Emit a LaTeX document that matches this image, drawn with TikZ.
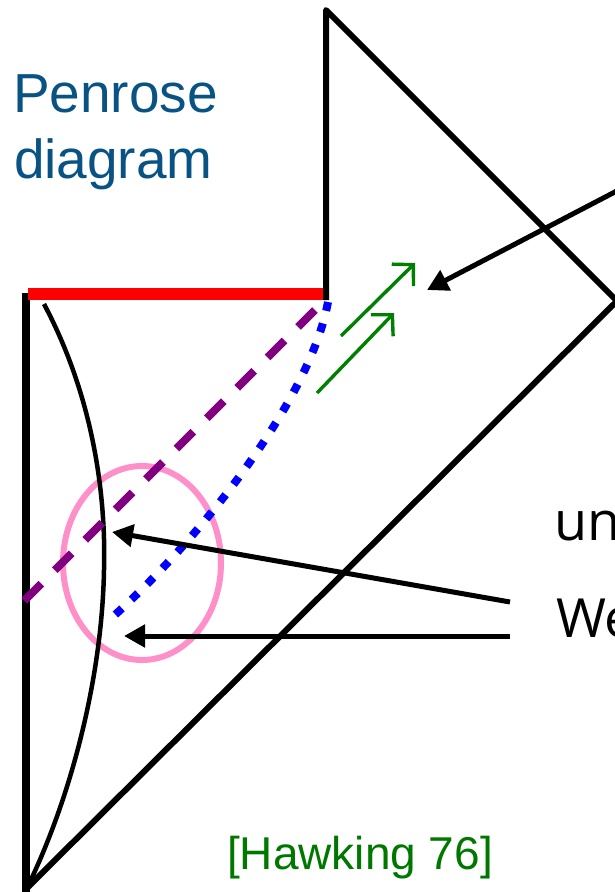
\documentclass[tikz,border=0pt]{standalone}
\usepackage{fontspec}
\setmainfont{Liberation Sans}
\newfontfamily\opensans{Open Sans}
\usetikzlibrary{arrows.meta,shapes.geometric}
\definecolor{penroseblue}{RGB}{8,82,132}
\definecolor{hgreen}{RGB}{0,120,0}
\definecolor{apgreen}{RGB}{0,128,0}
\definecolor{pinkring}{RGB}{255,143,200}
\definecolor{dpurple}{RGB}{128,0,128}
\begin{document}
\begin{tikzpicture}[x=1pt,y=-1pt,
  frame/.style={line width=6pt, line join=round},
  pointer/.style={line width=5pt, -{Triangle[length=21pt,width=22pt]}},
  flow/.style={draw=apgreen, line width=3.4pt, -{Straight Barb[length=15pt,width=31pt,line width=3.4pt]}},
  label/.style={anchor=base west, inner sep=0pt, outer sep=0pt}
]
\useasboundingbox (0,0) rectangle (615,892);
\clip (0,0) rectangle (615,892);

% key points
\coordinate (topv) at (326,10);
\coordinate (corner) at (326,300);
\coordinate (rightv) at (617,301);
\coordinate (botv) at (27,888);
\coordinate (topl) at (26,293);

% ring
\node[draw=pinkring, line width=6pt, ellipse, minimum width=158pt, minimum height=194pt, inner sep=0pt] (ring) at (142,563) {};

% boundaries
\draw[line width=8pt] (topl) -- (26,892);
\draw[red, line width=12pt] (28,294) -- (325,294);
\draw[frame] (corner) -- (topv) -- (rightv) -- (botv);

% curved worldline
\coordinate (cstart) at (44,304);
\coordinate (cmid) at (104,570);
\draw[line width=4.5pt] (cstart) .. controls (95,400) and (106,500) .. (cmid)
  .. controls (102,680) and (70,800) .. (botv);

% light rays
\coordinate (pstart) at (327,298);
\coordinate (pend) at (24,601);
\draw[dpurple, line width=8pt, dash pattern=on 24pt off 19pt, dash phase=26pt] (pstart) -- (pend);
\coordinate (bstart) at (328,302);
\coordinate (bend) at (107,622);
\draw[blue, line width=8pt, dash pattern=on 9pt off 13pt] (bstart) .. controls (310,400) and (200,540) .. (bend);

% green arrows
\coordinate (g1a) at (341,336); \coordinate (g1b) at (415,263);
\coordinate (g2a) at (317,393); \coordinate (g2b) at (394,313);
\draw[flow] (g1a) -- (g1b);
\draw[flow] (g2a) -- (g2b);

% texts
\node[label, text=penroseblue, font=\fontsize{55}{66}\selectfont] (penrose) at (13,112) {Penrose};
\node[label, text=penroseblue, font=\fontsize{55}{66}\selectfont] (diagram) at (14,178) {diagram};
\node[label, font=\opensans\fontsize{54}{60}\selectfont] (un) at (554,540) {un};
\node[label, font=\opensans\fontsize{54}{60}\selectfont] (we) at (556,637) {We};
\node[label, text=hgreen, font=\fontsize{46}{50}\selectfont] (hawking) at (227,869) {[Hawking 76]};

% black pointers
\coordinate (a1tail) at (510,602); \coordinate (a1tip) at (112,532);
\coordinate (a2tail) at (510,636); \coordinate (a2tip) at (124,636);
\coordinate (a3tail) at (634,182); \coordinate (a3tip) at (427,290);
\draw[pointer] (a1tail) -- (a1tip);
\draw[pointer] (a2tail) -- (a2tip);
\draw[pointer] (a3tail) -- (a3tip);
\end{tikzpicture}
\end{document}
